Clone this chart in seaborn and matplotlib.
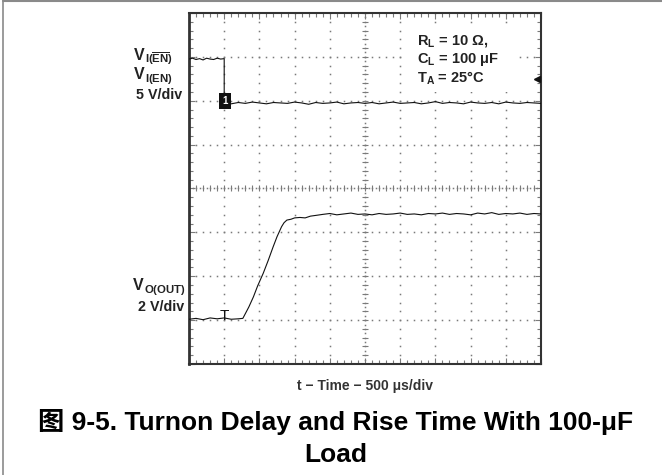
"""
Oscilloscope capture: turn-on delay and rise time with 100 uF load.
"""

import numpy as np
import matplotlib
matplotlib.use("Agg")
import matplotlib.pyplot as plt
from matplotlib.lines import Line2D
from matplotlib.patches import Rectangle
import seaborn as sns

# enable trace (divisions)
en_t = [0.0, 0.1, 0.2, 0.3, 0.4, 0.5, 0.6, 0.7, 0.8, 0.9, 1.0,
        1.0, 1.2, 1.4, 1.6, 1.8, 2.0, 2.2, 2.4, 2.6, 2.8,
        3.0, 3.2, 3.4, 3.6, 3.8, 4.0, 4.2, 4.4, 4.6, 4.8,
        5.0, 5.2, 5.4, 5.6, 5.8, 6.0, 6.2, 6.4, 6.6, 6.8,
        7.0, 7.2, 7.4, 7.6, 7.8, 8.0, 8.2, 8.4, 8.6, 8.8,
        9.0, 9.2, 9.4, 9.6, 9.8, 10.0]
en_v = [6.95, 6.97, 6.94, 6.96, 6.93, 6.97, 6.95, 6.94, 6.97, 6.95, 6.96,
        5.95, 5.93, 5.96, 5.94, 5.97, 5.95, 5.93, 5.96, 5.95, 5.94,
        5.97, 5.95, 5.92, 5.96, 5.94, 5.95, 5.97, 5.93, 5.95, 5.96,
        5.94, 5.96, 5.93, 5.95, 5.97, 5.94, 5.95, 5.96, 5.93, 5.95,
        5.98, 5.94, 5.96, 5.95, 5.93, 5.97, 5.95, 5.94, 5.96, 5.93,
        5.97, 5.95, 5.94, 5.96, 5.95, 5.94]

# output trace (divisions)
out_t = [0.0, 0.2, 0.4, 0.6, 0.8, 1.0, 1.2, 1.4, 1.53,
         1.70, 1.83, 1.95, 2.11, 2.25, 2.39, 2.50, 2.63, 2.70, 2.78,
         2.90, 3.00, 3.15, 3.30, 3.45, 3.63,
         3.8, 4.0, 4.2, 4.4, 4.6, 4.8, 5.0, 5.2, 5.4, 5.6,
         5.8, 6.0, 6.2, 6.4, 6.6, 6.8, 7.0, 7.2, 7.4, 7.6,
         7.8, 8.0, 8.2, 8.4, 8.6, 8.8, 9.0, 9.2, 9.4, 9.6,
         9.8, 10.0]
out_v = [1.02, 1.04, 1.01, 1.05, 1.03, 1.05, 1.02, 1.03, 1.04,
         1.30, 1.53, 1.78, 2.07, 2.36, 2.67, 2.90, 3.13, 3.22, 3.28,
         3.30, 3.33, 3.34, 3.33, 3.37, 3.39,
         3.41, 3.43, 3.40, 3.42, 3.44, 3.41, 3.42, 3.40, 3.43, 3.41,
         3.42, 3.44, 3.41, 3.42, 3.40, 3.43, 3.42, 3.44, 3.41, 3.43,
         3.42, 3.40, 3.44, 3.42, 3.45, 3.41, 3.43, 3.42, 3.44, 3.41,
         3.43, 3.42]

condiciones = ["R$_L$ = 10 Ω,", "C$_L$ = 100 μF", "T$_A$ = 25°C"]

sns.set_style("white")
plt.rcParams["font.family"] = ["Liberation Sans", "Noto Sans CJK SC", "DejaVu Sans"]
plt.rcParams["mathtext.fontset"] = "custom"
plt.rcParams["mathtext.rm"] = "Liberation Sans:bold"
plt.rcParams["mathtext.it"] = "Liberation Sans:bold"
plt.rcParams["mathtext.bf"] = "Liberation Sans:bold"

W, H = 662, 475
fig = plt.figure(figsize=(W / 100, H / 100), dpi=100)
ax = fig.add_axes([189 / W, 1 - 364 / H, 352 / W, 351 / H])
ax.set_xlim(0, 10)
ax.set_ylim(0, 8)


def fx(px):
    return px / W


def fy(py):
    return 1 - py / H


# graticula punteada
gris = "#7a7a7a"
pasos = np.arange(0, 10.01, 0.2)
for gy in range(1, 8):
    if gy == 4:
        continue
    ax.plot(pasos, np.full_like(pasos, gy), ls="none", marker="s", ms=1.1,
            color=gris, mew=0, zorder=1)
pasos_y = np.arange(0, 8.01, 0.2)
for gx in range(1, 10):
    if gx == 5:
        continue
    ax.plot(np.full_like(pasos_y, gx), pasos_y, ls="none", marker="s", ms=1.1,
            color=gris, mew=0, zorder=1)
# ejes centrales con marcas
finos = np.arange(0, 10.01, 0.1)
ax.plot(finos, np.full_like(finos, 4), ls="none", marker="s", ms=1.1, color=gris, mew=0, zorder=1)
ax.plot(pasos, np.full_like(pasos, 4), ls="none", marker="|", ms=4, color=gris, mew=0.8, zorder=1)
finos_y = np.arange(0, 8.01, 0.1)
ax.plot(np.full_like(finos_y, 5), finos_y, ls="none", marker="s", ms=1.1, color=gris, mew=0, zorder=1)
ax.plot(np.full_like(pasos_y, 5), pasos_y, ls="none", marker="_", ms=4, color=gris, mew=0.8, zorder=1)

# caja blanca de condiciones
ax.add_patch(Rectangle((6.08, 6.21), 3.24, 1.48, facecolor="white", edgecolor="none", zorder=2))
for texto, yb in zip(condiciones, [7.28, 6.85, 6.42]):
    ax.text(6.48, yb, texto, fontsize=10.5, fontweight="bold", va="baseline", ha="left",
            color="#222222", zorder=3)

# trazas
sns.lineplot(x=en_t, y=en_v, ax=ax, color="#111111", lw=0.8, sort=False, estimator=None, zorder=4)
sns.lineplot(x=out_t, y=out_v, ax=ax, color="#111111", lw=0.8, sort=False, estimator=None, zorder=4)

# marcadores del osciloscopio
ax.text(1.02, 6.0, "1", fontsize=7, color="white", fontweight="bold", ha="center", va="center",
        zorder=5, bbox=dict(boxstyle="square,pad=0.3", facecolor="#111111", edgecolor="none"))
ax.text(1.0, 1.0, "T", fontsize=11, color="#111111", ha="center", va="baseline", zorder=5)
ax.plot([9.88], [6.49], marker="<", ms=5, color="#111111", zorder=5, clip_on=False)

# marco y marcas internas
ax.set_xticks(range(0, 11))
ax.set_yticks(range(0, 9))
ax.set_xticks(np.arange(0, 10.01, 0.2), minor=True)
ax.set_yticks(np.arange(0, 8.01, 0.2), minor=True)
ax.tick_params(which="both", direction="in", top=True, right=True, bottom=True, left=True,
               labelbottom=False, labelleft=False, color=gris, width=0.8)
ax.tick_params(which="major", length=4)
ax.tick_params(which="minor", length=3)
for s in ax.spines.values():
    s.set_color("#333333")
    s.set_linewidth(1.5)
    s.set_visible(True)
ax.spines["left"].set_linewidth(2)


# etiquetas de canales: V grande con subindice propio
def etiqueta(x_izq, y_base, sub):
    v = fig.text(fx(x_izq), fy(y_base), "V", fontsize=11.5, fontweight="bold",
                 ha="left", va="baseline", color="#222222")
    ax.annotate(sub, xy=(1.0, 0.0), xycoords=v, xytext=(0.3, -0.2),
                textcoords="offset points", fontsize=8.2, fontweight="bold",
                ha="left", va="baseline", color="#222222")


etiqueta(134, 60, r"$\mathrm{I(\overline{EN})}$")
etiqueta(134, 79, r"$\mathrm{I(EN)}$")
fig.text(fx(182), fy(99), "5 V/div", fontsize=10.3, fontweight="bold",
         ha="right", va="baseline", color="#222222")
etiqueta(133, 290, r"$\mathrm{O(OUT)}$")
fig.text(fx(184), fy(311), "2 V/div", fontsize=10.3, fontweight="bold",
         ha="right", va="baseline", color="#222222")

fig.text(fx(365), fy(386), "t − Time − 500 μs/div", fontsize=10, fontweight="bold",
         ha="center", va="center", color="#333333")

fig.text(fx(336), fy(430), "图 9-5. Turnon Delay and Rise Time With 100-μF", fontsize=19,
         fontweight="bold", ha="center", va="baseline", color="black")
fig.text(fx(336), fy(462), "Load", fontsize=19, fontweight="bold",
         ha="center", va="baseline", color="black")

# borde de la figura
fig.add_artist(Line2D([fx(3), fx(3)], [0, 1], color="#8a8a8a", lw=1.2))
fig.add_artist(Line2D([fx(3), 1], [fy(0.8), fy(0.8)], color="#8a8a8a", lw=1.5))

fig.savefig("out.png", dpi=100)
